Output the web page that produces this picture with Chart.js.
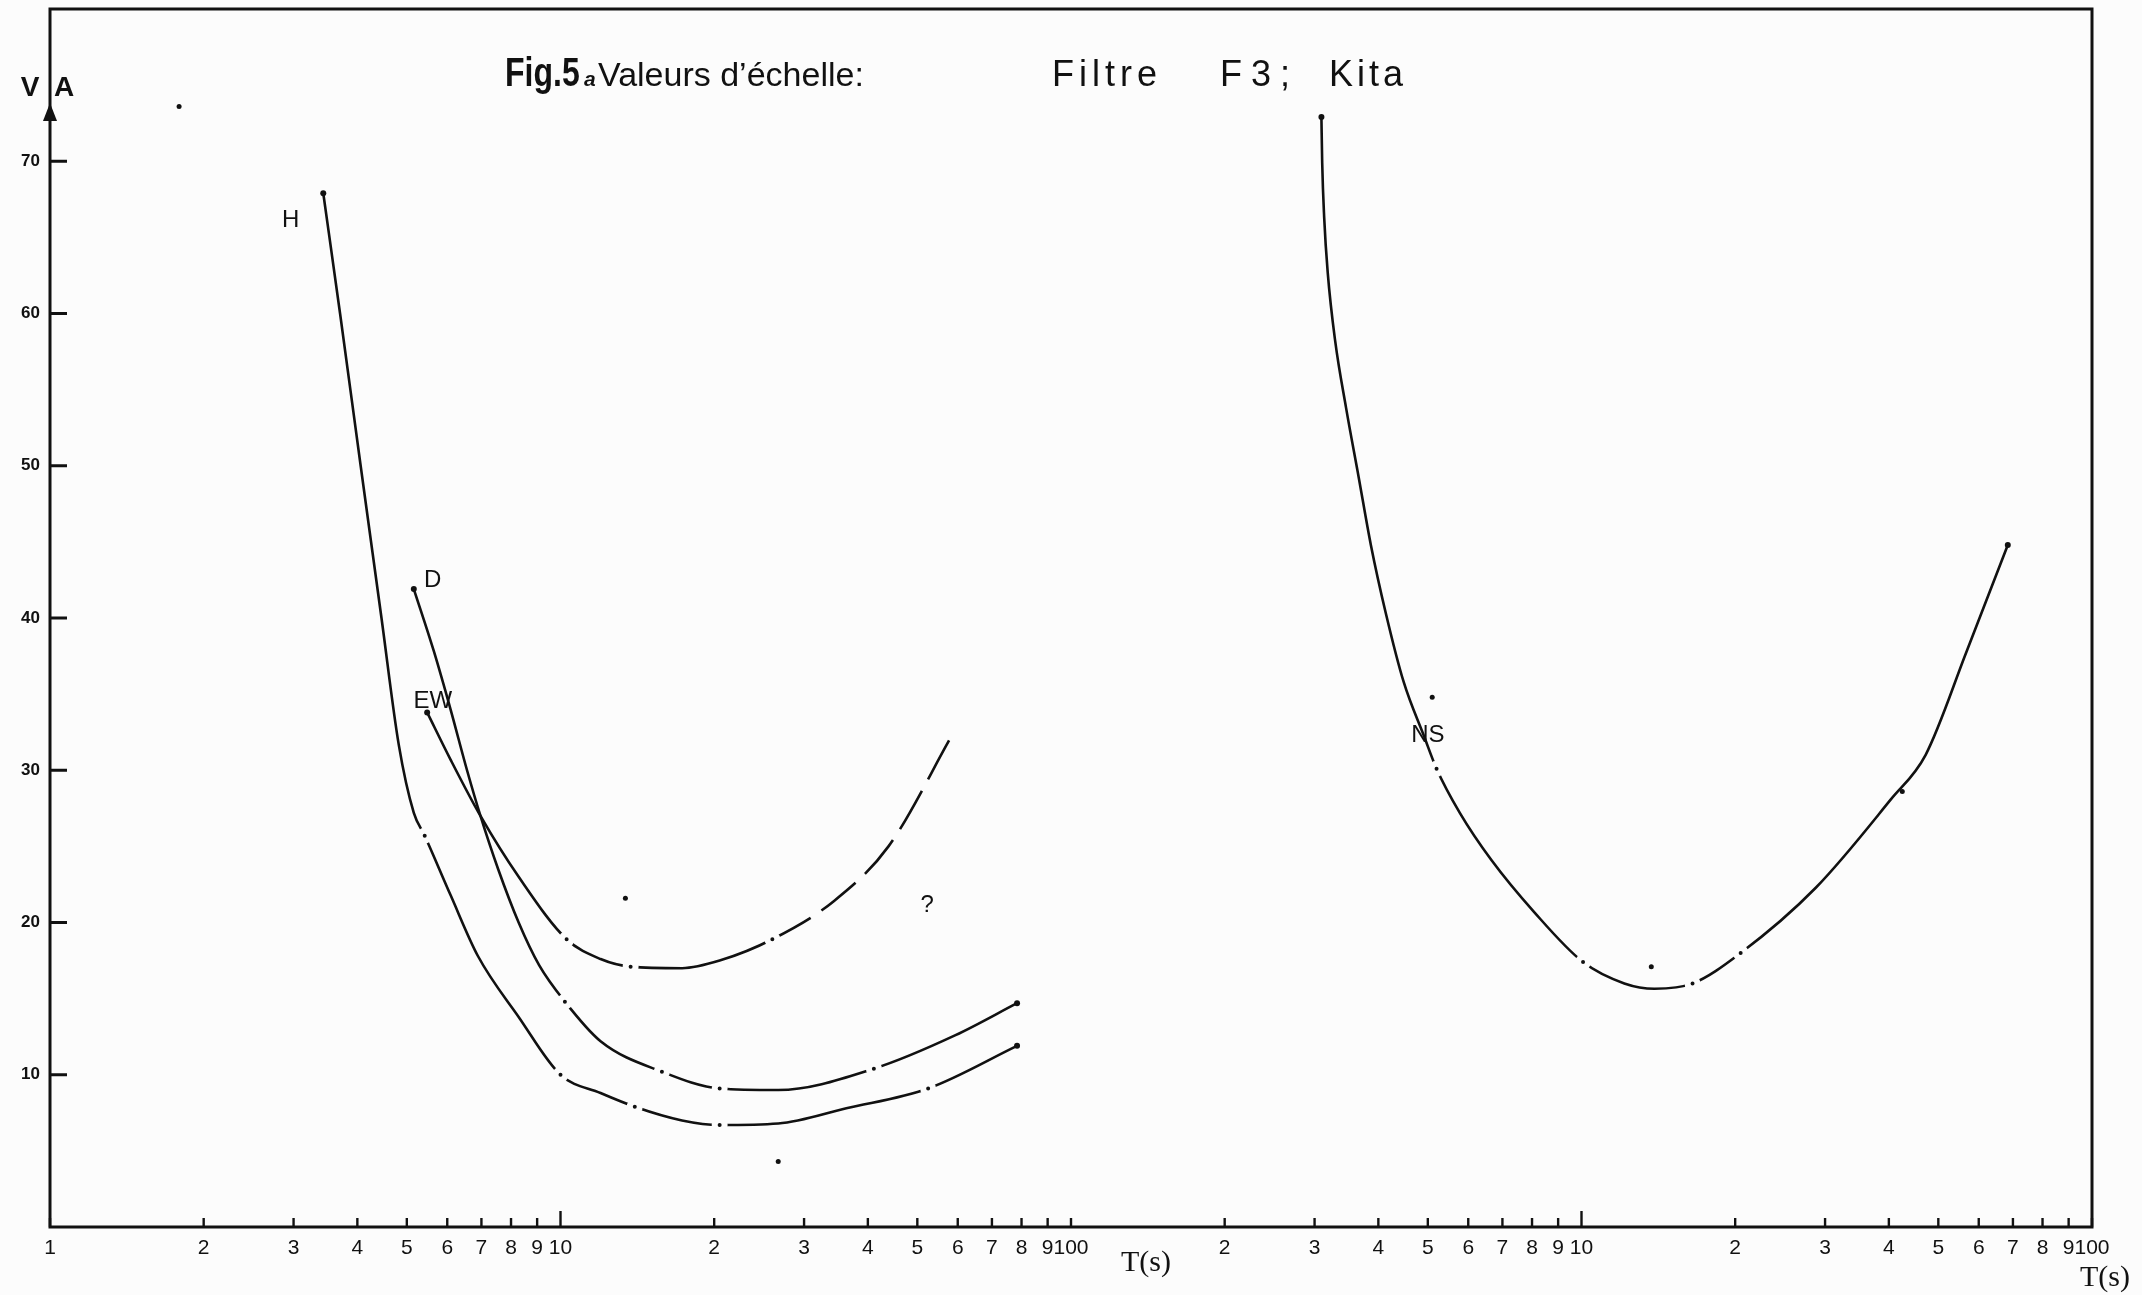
<!DOCTYPE html>
<html>
<head>
<meta charset="utf-8">
<script src="https://cdn.jsdelivr.net/npm/chart.js@4.4.0/dist/chart.umd.min.js"></script>
<style>
  html, body { margin: 0; padding: 0; background: #fcfcfc; }
  #wrap { width: 2142px; height: 1295px; }
</style>
</head>
<body>
<div id="wrap"><canvas id="fig5a"></canvas></div>
<script>
//========== data ==========//

// left panel : period T(s) and scale value for H, D and EW
const hT = [3.43, 3.70, 4.06, 4.46, 4.82, 5.16, 5.42, 6.09, 6.89, 8.28, 10, 11.98, 13.98, 17.3, 20.5, 26.7, 36.3, 52.5, 78.4];
const hV = [67.9, 60.0, 50.0, 40.0, 31.7, 27.2, 25.7, 21.8, 17.8, 13.8, 10.0, 8.8, 7.9, 7.0, 6.7, 6.8, 7.8, 9.1, 11.9];

const dT = [5.16, 5.65, 6.09, 6.56, 6.97, 7.55, 8.28, 9.08, 10.2, 11.98, 15.8, 20.5, 26.7, 41.1, 59.4, 78.4];
const dV = [41.9, 37.8, 34.0, 30.0, 27.0, 23.5, 20.0, 17.2, 14.8, 12.2, 10.2, 9.1, 9.0, 10.4, 12.6, 14.7];

const ewT = [5.48, 6.09, 6.97, 8.28, 10.28, 11.98, 13.72, 17.3, 20.5, 26.0, 34.3, 43.9, 58.7];
const ewV = [33.8, 30.7, 27.0, 23.0, 18.9, 17.6, 17.1, 17.0, 17.5, 18.9, 21.4, 25.0, 32.4];

// right panel : NS (its T axis starts again at 1, so it sits two decades further)
const nsT = [3.094, 3.105, 3.133, 3.183, 3.292, 3.458, 3.658, 3.867, 4.138, 4.484, 4.92, 5.201, 5.776, 6.66, 8.07, 10.07, 12.13, 13.9, 16.5, 20.5, 28.8, 40.4, 47.2, 56.8, 68.4];
const nsV = [72.9, 69.9, 66.3, 62.7, 58.2, 53.8, 49.3, 44.8, 40.3, 35.8, 32.2, 30.1, 27.2, 24.1, 20.7, 17.4, 16.0, 15.65, 16.0, 18.0, 22.3, 28.1, 31.0, 37.8, 44.8];
const rightShift = 100;

// periods where the curves carry a measured point (drawn as a dot in a gap)
const hMarks = [5.42, 10, 13.98, 20.5, 52.5];
const dMarks = [10.2, 15.8, 20.5, 41.1];
const ewMarks = [10.28, 13.72, 26.0];
const nsMarks = [5.201, 10.07, 16.5, 20.5];

// loose points on the sheet (left ones, then NS ones)
const looseLeftT = [1.79, 13.4, 26.7];
const looseLeftV = [73.6, 21.6, 4.3];
const looseNsT = [5.1, 13.7, 42.5];
const looseNsV = [34.8, 17.1, 28.6];

// axes
const mantissas = [1, 2, 3, 4, 5, 6, 7, 8, 9];
const decades = [1, 10, 100, 1000];
const xTicks = decades.flatMap(d => mantissas.map(m => m * d)).concat([10000]);
const yTicks = [10, 20, 30, 40, 50, 60, 70];

const titleWords = ['Valeurs d\u2019\u00e9chelle:', 'Filtre', 'F3;', 'Kita'];

// curve names, written next to the curves
const notes = [
  { text: 'H', t: 2.96, v: 66.1 },
  { text: 'D', t: 5.62, v: 42.5 },
  { text: 'EW', t: 5.62, v: 34.5 },
  { text: 'NS', t: 5 * rightShift, v: 32.3 },
  { text: '?', t: 52.3, v: 21.1 }
];

//========== helpers ==========//

const ink = '#111';
const paper = '#fcfcfc';

function pts(xs, ys, shift) {
  return xs.map((x, i) => ({ x: x * (shift || 1), y: ys[i] }));
}

function tLabel(v) {
  if (v === 1) return '1';
  if (v === 10 || v === 1000) return '10';
  if (v === 100 || v === 10000) return '100';
  const e = Math.floor(Math.log10(v) + 1e-9);
  return String(Math.round(v / Math.pow(10, e)));
}

// end points : plain dot ; marked points : dot with a small paper-coloured gap round it
function curve(label, xs, ys, marks, shift, extra) {
  const n = xs.length;
  const isMark = i => marks.includes(xs[i]);
  const isEnd = i => i === 0 || i === n - 1;
  return Object.assign({
    label: label,
    data: pts(xs, ys, shift),
    borderColor: ink,
    backgroundColor: ink,
    borderWidth: 2.6,
    pointRadius: ctx => isMark(ctx.dataIndex) ? 5 : (isEnd(ctx.dataIndex) ? 3 : 0),
    pointBorderWidth: ctx => isMark(ctx.dataIndex) ? 6 : 0,
    pointBorderColor: paper,
    cubicInterpolationMode: 'monotone',
    fill: false
  }, extra || {});
}

//========== drawing of frame, ticks and texts ==========//

const paperPlugin = {
  id: 'paper',
  beforeDraw(chart) {
    const c = chart.ctx;
    c.save();
    c.fillStyle = paper;
    c.fillRect(0, 0, chart.width, chart.height);
    c.restore();
  },
  afterDatasetsDraw(chart) {
    const c = chart.ctx;
    const a = chart.chartArea;
    const xs = chart.scales.x;
    const ys = chart.scales.y;
    c.save();
    c.strokeStyle = ink;
    c.fillStyle = ink;

    // frame
    c.lineWidth = 3;
    c.strokeRect(a.left, a.top, a.right - a.left, a.bottom - a.top);

    // ticks on the T axis, pointing inward
    c.lineWidth = 2.4;
    xTicks.forEach(v => {
      const px = xs.getPixelForValue(v);
      const len = (v === 10 || v === 1000) ? 16 : 9;
      c.beginPath();
      c.moveTo(px, a.bottom);
      c.lineTo(px, a.bottom - len);
      c.stroke();
    });

    // ticks on the value axis
    c.lineWidth = 3;
    yTicks.forEach(v => {
      const py = ys.getPixelForValue(v);
      c.beginPath();
      c.moveTo(a.left, py);
      c.lineTo(a.left + 17, py);
      c.stroke();
    });

    // arrow of the value axis
    c.beginPath();
    c.moveTo(a.left, 103);
    c.lineTo(a.left - 7, 121);
    c.lineTo(a.left + 7, 121);
    c.closePath();
    c.fill();

    c.textBaseline = 'middle';
    c.textAlign = 'center';
    c.font = 'bold 28px "Liberation Sans", Arial, sans-serif';
    c.fillText('V', 30, 88);
    c.fillText('A', 64, 88);

    // title
    c.textBaseline = 'alphabetic';
    c.textAlign = 'left';
    c.save();
    c.translate(505, 86);
    c.scale(0.8, 1);
    c.font = 'bold 40px "Liberation Sans", Arial, sans-serif';
    c.fillText('Fig.5', 0, 0);
    c.restore();
    c.font = 'italic bold 21px "Liberation Sans", Arial, sans-serif';
    c.fillText('a', 584, 86);
    const wordX = [598, 1052, 1220, 1329];
    const wordGap = ['0px', '5px', '9px', '4px'];
    titleWords.forEach((w, i) => {
      c.font = (i === 0 ? '34px' : '36px') + ' "Liberation Sans", Arial, sans-serif';
      c.letterSpacing = wordGap[i];
      c.fillText(w, wordX[i], 86);
    });
    c.letterSpacing = '0px';

    // T(s) under each panel
    c.textAlign = 'center';
    c.textBaseline = 'middle';
    c.font = '30px "Liberation Serif", "Times New Roman", serif';
    c.fillText('T(s)', 1146, 1263);
    c.fillText('T(s)', 2105, 1278);

    // curve names
    c.font = '24px "Liberation Sans", Arial, sans-serif';
    notes.forEach(n => {
      c.fillText(n.text, xs.getPixelForValue(n.t), ys.getPixelForValue(n.v));
    });
    c.restore();
  }
};

//========== chart ==========//

const datasets = [
  curve('H', hT, hV, hMarks),
  curve('D', dT, dV, dMarks),
  curve('EW', ewT, ewV, ewMarks, 1, {
    segment: { borderDash: ctx => ctx.p0.parsed.x >= 26 ? [44, 13] : undefined }
  }),
  curve('NS', nsT, nsV, nsMarks, rightShift),
  {
    label: 'points',
    data: pts(looseLeftT, looseLeftV).concat(pts(looseNsT, looseNsV, rightShift)),
    showLine: false,
    pointRadius: 2.5,
    pointBorderWidth: 0,
    backgroundColor: ink,
    borderColor: ink
  }
];
// EW has no dot at its dashed end
datasets[2].pointRadius = ctx => ewMarks.includes(ewT[ctx.dataIndex]) ? 5 : (ctx.dataIndex === 0 ? 3 : 0);

const config = {
  type: 'line',
  data: { datasets: datasets },
  options: {
    responsive: true,
    maintainAspectRatio: false,
    animation: false,
    layout: { padding: { top: 9, right: 50, left: 0, bottom: 0 } },
    plugins: {
      legend: { display: false },
      tooltip: { enabled: false },
      title: { display: false }
    },
    scales: {
      x: {
        type: 'logarithmic',
        min: 1,
        max: 10000,
        grid: { display: false, drawTicks: false },
        border: { display: false },
        afterBuildTicks: scale => { scale.ticks = xTicks.map(v => ({ value: v })); },
        afterFit: scale => {
          scale.height = 68;
          scale.paddingLeft = 0;
          scale.paddingRight = 0;
        },
        ticks: {
          autoSkip: false,
          maxRotation: 0,
          padding: 9,
          color: ink,
          font: { family: '"Liberation Sans Narrow", "Liberation Sans", Arial', size: 21 },
          callback: v => tLabel(v)
        }
      },
      y: {
        type: 'linear',
        min: 0,
        max: 80,
        grid: { display: false, drawTicks: false },
        border: { display: false },
        afterBuildTicks: scale => { scale.ticks = yTicks.map(v => ({ value: v })); },
        afterFit: scale => {
          scale.width = 50;
          scale.paddingTop = 0;
          scale.paddingBottom = 0;
        },
        ticks: {
          padding: 10,
          color: ink,
          font: { family: '"Liberation Sans", Arial', size: 17, weight: 'bold' }
        }
      }
    }
  },
  plugins: [paperPlugin]
};

const fig5a = new Chart(document.getElementById('fig5a'), config);
</script>
</body>
</html>
